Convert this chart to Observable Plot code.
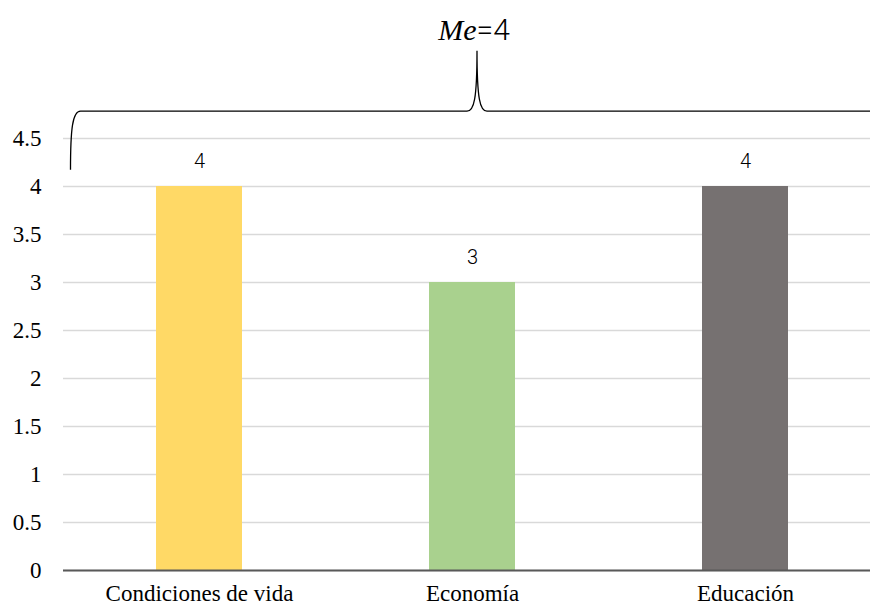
<!DOCTYPE html>
<html>
<head>
<meta charset="utf-8">
<script src="https://cdn.jsdelivr.net/npm/d3@7"></script>
<script src="https://cdn.jsdelivr.net/npm/@observablehq/plot@0.6"></script>
<style>
  html, body { margin: 0; padding: 0; background: #fff; overflow: hidden; }
  #chart svg { display: block; overflow: hidden; }
</style>
</head>
<body>
<div id="chart"></div>
<script>
const categories = ["Condiciones de vida", "Economía", "Educación"];
const values = [4, 3, 4];
const colors = ["#FFD966", "#A9D18E", "#767171"];
const yTicks = [0, 0.5, 1, 1.5, 2, 2.5, 3, 3.5, 4, 4.5];
const medianLabel = "4";

const serif = "'Liberation Serif', 'Times New Roman', serif";
const thinSans = "Roboto, 'Liberation Sans', Arial, sans-serif";

const data = categories.map((c, i) => ({category: c, value: values[i], color: colors[i]}));

// Brace annotation (spans all categories), drawn with the chart's scales
function brace(index, scales, values_, dims) {
  const x = scales.x, y = scales.y;
  const bw = x.bandwidth ? x.bandwidth() : 0;
  const step = x.step ? x.step() : 0;
  const first = x(categories[0]), last = x(categories[categories.length - 1]);
  const left = first - (step - bw) / 2 + 8;
  const right = last + bw + (step - bw) / 2 + 2;
  const mid = (left + right) / 2;
  const yEnd = y(4.17), yLine = y(4.78), yTip = y(5.41);
  const p = `M${left},${yEnd} C${left},${yLine + 18} ${left + 2},${yLine} ${left + 10},${yLine}` +
    ` L${mid - 10},${yLine} C${mid - 3},${yLine} ${mid},${yLine - 12} ${mid},${yTip}` +
    ` C${mid},${yLine - 12} ${mid + 3},${yLine} ${mid + 10},${yLine}` +
    ` L${right - 10},${yLine} C${right - 2},${yLine} ${right},${yLine + 18} ${right},${yEnd}`;
  const g = document.createElementNS("http://www.w3.org/2000/svg", "g");
  const path = document.createElementNS("http://www.w3.org/2000/svg", "path");
  path.setAttribute("d", p);
  path.setAttribute("fill", "none");
  path.setAttribute("stroke", "#000");
  path.setAttribute("stroke-width", "1.3");
  g.appendChild(path);
  const t = document.createElementNS("http://www.w3.org/2000/svg", "text");
  t.setAttribute("x", mid - 3);
  t.setAttribute("y", y(5.52));
  t.setAttribute("text-anchor", "middle");
  t.setAttribute("font-size", "30");
  t.setAttribute("fill", "#000");
  const ts1 = document.createElementNS("http://www.w3.org/2000/svg", "tspan");
  ts1.setAttribute("font-family", serif);
  ts1.setAttribute("font-style", "italic");
  ts1.textContent = "Me";
  const ts2 = document.createElementNS("http://www.w3.org/2000/svg", "tspan");
  ts2.setAttribute("font-family", thinSans);
  ts2.setAttribute("font-weight", "300");
  ts2.textContent = "=" + medianLabel;
  t.appendChild(ts1); t.appendChild(ts2);
  g.appendChild(t);
  return g;
}

const chart = Plot.plot({
  width: 870,
  height: 609,
  marginTop: 138,
  marginBottom: 39,
  marginLeft: 63,
  marginRight: 0,
  style: {fontFamily: serif, fontSize: "23px", color: "#000", background: "#fff"},
  x: {domain: categories, range: [62.5, 881.5], paddingInner: 0.685, paddingOuter: 0.3425, label: null},
  y: {domain: [0, 4.5], label: null},
  marks: [
    Plot.gridY(yTicks, {stroke: "#d9d9d9", strokeOpacity: 1, strokeWidth: 1.5}),
    Plot.barY(data, {x: "category", y: "value", fill: "color"}),
    Plot.ruleY([0], {stroke: "#595959", strokeWidth: 2}),
    Plot.ruleX([0], {x: () => 0, frameAnchor: "left", stroke: "#595959", strokeWidth: 2}),
    Plot.axisY(yTicks, {tickSize: 0, tickPadding: 22, tickFormat: d => String(d), fontSize: 23, fontFamily: serif, fill: "#000"}),
    Plot.axisX({tickSize: 0, tickPadding: 14, fontSize: 23, fontFamily: serif, fill: "#000"}),
    Plot.text(data, {x: "category", y: "value", text: d => String(d.value), dy: -25, fontSize: 20,
      fontFamily: thinSans, fontWeight: 300, fill: "#000"}),
    brace
  ]
});
document.getElementById("chart").appendChild(chart);
</script>
</body>
</html>
